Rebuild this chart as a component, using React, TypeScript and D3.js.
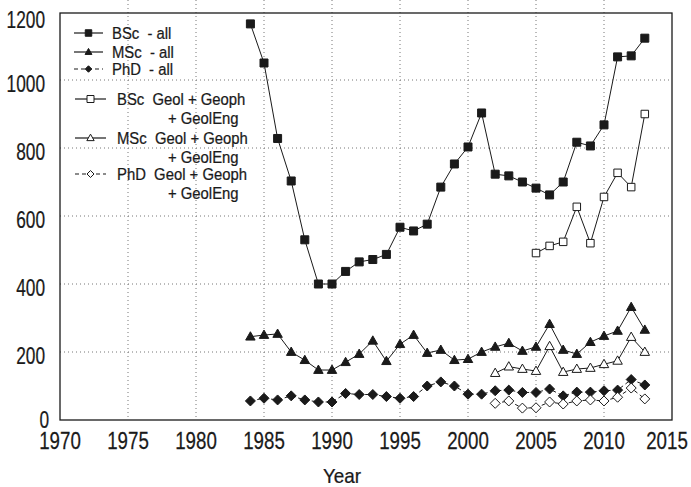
import React from "react";
import * as d3 from "d3";

// values
const yearsAll = d3.range(1984, 2014);
const yearsGeolBsc = d3.range(2005, 2014);
const yearsGeol = d3.range(2002, 2014);

const bscAll = [1165, 1050, 828, 703, 530, 400, 400, 437, 465, 472, 487, 567, 556, 576, 685, 753, 803, 903, 723, 718, 700, 682, 662, 700, 817, 806, 868, 1068, 1071, 1123];
const mscAll = [245, 250, 253, 200, 176, 147, 147, 170, 194, 233, 173, 223, 250, 197, 206, 176, 179, 200, 215, 226, 203, 215, 282, 206, 194, 229, 247, 262, 332, 265];
const phdAll = [56, 64, 59, 71, 59, 53, 53, 78, 75, 75, 69, 64, 69, 100, 112, 100, 76, 76, 86, 88, 81, 81, 91, 71, 82, 82, 86, 88, 119, 103];
const bscGeol = [491, 512, 524, 627, 520, 656, 727, 685, 900];
const mscGeol = [138, 157, 150, 144, 217, 141, 150, 153, 164, 174, 244, 200];
const phdGeol = [49, 56, 35, 36, 53, 47, 56, 59, 56, 67, 94, 62];

const xTicks = d3.range(1970, 2016, 5);
const yTicks = d3.range(0, 1201, 200);

type Marker = "square" | "triangle" | "diamond";

interface Series {
	label: string[];
	years: number[];
	values: number[];
	marker: Marker;
	filled: boolean;
	dashed: boolean;
}

const series: Series[] = [
	{ label: ["BSc  - all"], years: yearsAll, values: bscAll, marker: "square", filled: true, dashed: false },
	{ label: ["MSc  - all"], years: yearsAll, values: mscAll, marker: "triangle", filled: true, dashed: false },
	{ label: ["PhD  - all"], years: yearsAll, values: phdAll, marker: "diamond", filled: true, dashed: true },
	{ label: ["BSc  Geol + Geoph", "+ GeolEng"], years: yearsGeolBsc, values: bscGeol, marker: "square", filled: false, dashed: false },
	{ label: ["MSc  Geol + Geoph", "+ GeolEng"], years: yearsGeol, values: mscGeol, marker: "triangle", filled: false, dashed: false },
	{ label: ["PhD  Geol + Geoph", "+ GeolEng"], years: yearsGeol, values: phdGeol, marker: "diamond", filled: false, dashed: true },
];

const W = 691;
const H = 487;
const left = 60;
const right = 672;
const top = 12;
const bottom = 420;
const INK = "#1a1a1a";
const FONT = "'Liberation Sans', Arial, sans-serif";

function markerPath(kind: Marker, s: number): string {
	const h = s / 2;
	if (kind === "square") return `M${-h},${-h}H${h}V${h}H${-h}Z`;
	if (kind === "triangle") return `M0,${-h * 1.1}L${h * 1.05},${h * 0.75}L${-h * 1.05},${h * 0.75}Z`;
	return `M0,${-h}L${h},0L0,${h}L${-h},0Z`;
}

// condensed text: the reference uses a narrow face, so squeeze horizontally
function Txt(props: { x: number; y: number; size: number; sx: number; anchor?: string; children: React.ReactNode }) {
	return (
		<text
			transform={`translate(${props.x},${props.y}) scale(${props.sx},1)`}
			fontSize={props.size}
			textAnchor={props.anchor ?? "start"}
			fill={INK}
			stroke={INK}
			strokeWidth={0.25}
			style={{ whiteSpace: "pre" }}
		>
			{props.children}
		</text>
	);
}

export default function App() {
	const x = d3.scaleLinear().domain([1970, 2015]).range([left, right]);
	const y = d3.scaleLinear().domain([0, 1200]).range([bottom, top]);

	const line = d3
		.line<[number, number]>()
		.x((d) => x(d[0]))
		.y((d) => y(d[1]));

	const legendRows = [33, 52, 69, 99, 138, 174];

	return (
		<svg
			width={W}
			height={H}
			style={{ position: "absolute", left: 0, top: 0, background: "white" }}
			fontFamily={FONT}
		>
			{/* grid */}
			<g stroke="#777" strokeWidth={1} strokeDasharray="1,3">
				{xTicks.slice(1, -1).map((t) => (
					<line key={"gx" + t} x1={x(t)} x2={x(t)} y1={0} y2={bottom} />
				))}
				{yTicks.slice(1, -1).map((t) => (
					<line key={"gy" + t} x1={left} x2={right} y1={y(t)} y2={y(t)} />
				))}
			</g>

			{/* frame */}
			<rect x={left} y={top + 1} width={right - left} height={bottom - top - 1} fill="none" stroke={INK} strokeWidth={1.3} />

			{/* tick labels */}
			{yTicks.map((t) => (
				<Txt key={"ty" + t} x={t === 0 ? 49 : 45} y={y(t) + (t === 1200 ? 16 : t === 0 ? 8 : 12)} size={24} sx={0.72} anchor="end">
					{t}
				</Txt>
			))}
			{xTicks.map((t) => (
				<Txt key={"tx" + t} x={t === 2015 ? x(t) - 5 : x(t)} y={449} size={24} sx={0.78} anchor="middle">
					{t}
				</Txt>
			))}
			<Txt x={342} y={483} size={21} sx={0.9} anchor="middle">
				Year
			</Txt>

			{/* series */}
			{series.map((s, i) => {
				const pts = s.years.map((yr, j) => [yr, s.values[j]] as [number, number]);
				const size = s.marker === "square" ? (s.filled ? 8 : 7.5) : s.marker === "triangle" ? 9 : 10;
				return (
					<g key={"s" + i}>
						<path
							d={line(pts) ?? ""}
							fill="none"
							stroke={INK}
							strokeWidth={1}
							strokeDasharray={s.dashed ? "4,3" : undefined}
						/>
						{pts.map((p, j) => (
							<path
								key={j}
								d={markerPath(s.marker, size)}
								transform={`translate(${x(p[0])},${y(p[1])})`}
								fill={s.filled ? INK : "white"}
								stroke={INK}
								strokeWidth={1}
							/>
						))}
					</g>
				);
			})}

			{/* legend */}
			{series.map((s, i) => {
				const ly = legendRows[i];
				const x0 = s.filled ? 74 : 75;
				const x1 = s.filled ? 103 : 106;
				const size = s.filled ? 6.5 : 7;
				return (
					<g key={"l" + i}>
						<line
							x1={x0}
							x2={x1}
							y1={ly}
							y2={ly}
							stroke={INK}
							strokeWidth={1.2}
							strokeDasharray={s.dashed ? "4,3" : undefined}
						/>
						<path
							d={markerPath(s.marker, size)}
							transform={`translate(${(x0 + x1) / 2},${ly})`}
							fill={s.filled ? INK : "white"}
							stroke={INK}
							strokeWidth={1}
						/>
						<Txt x={s.filled ? 112 : 117} y={ly + 6} size={16.5} sx={0.9}>
							{s.label[0]}
						</Txt>
						{s.label[1] && (
							<Txt x={168} y={ly + 25} size={16.5} sx={0.9}>
								{s.label[1]}
							</Txt>
						)}
					</g>
				);
			})}
		</svg>
	);
}
